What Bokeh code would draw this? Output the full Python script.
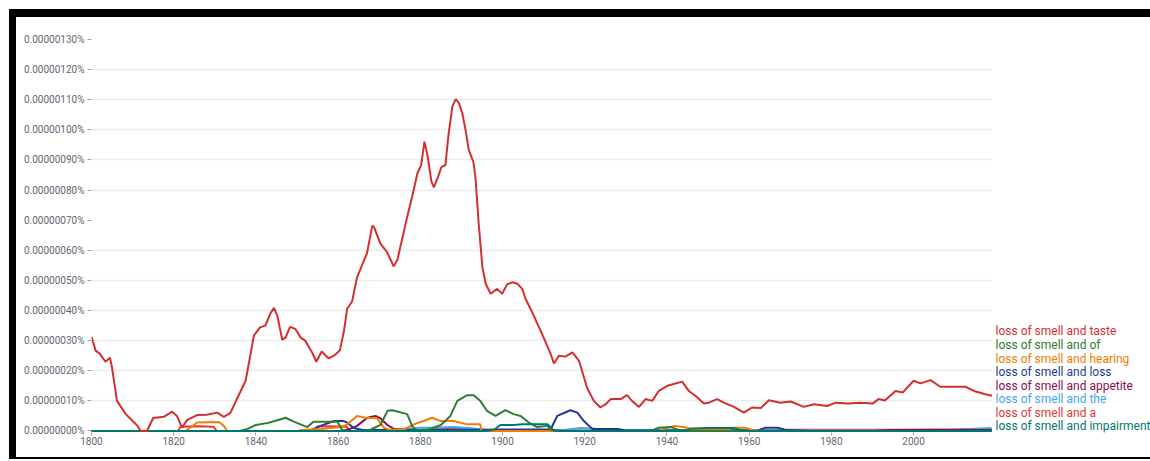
from bokeh.plotting import figure
from bokeh.models import FixedTicker, CustomJSTickFormatter, Range1d, ColumnDataSource, Div
from bokeh.core.properties import value
from bokeh.layouts import column, row
from bokeh.embed import file_html
from bokeh.resources import INLINE

# values are in units of 1e-8 percent (0.00000001%)
taste_years = [1800, 1801, 1802, 1803.4, 1804.5, 1805, 1806.2, 1808.3, 1810, 1811, 1812, 1813.5, 1815, 1817.6,
               1819.6, 1820.8, 1822, 1823.3, 1825.7, 1828, 1830.6, 1832.2, 1833.8, 1835.4, 1837.5, 1838.7, 1839.5,
               1841, 1842.3, 1843.5, 1844.4, 1845.2, 1846.4, 1847.2, 1848.3, 1849.6, 1850.9, 1852, 1853.7, 1854.7,
               1856, 1857.7, 1859, 1860.4, 1861.4, 1862.2, 1863.4, 1864.6, 1866.3, 1867, 1868.3, 1868.7, 1870.3,
               1871.9, 1873.5, 1874.4, 1875.6, 1876.8, 1878, 1879.3, 1880.2, 1881, 1881.8, 1882.7, 1883.3, 1884.3,
               1885.1, 1886.1, 1886.9, 1887.8, 1888.6, 1889.4, 1890.2, 1891, 1891.8, 1892.9, 1893.4, 1894.2, 1895.1,
               1895.9, 1897.1, 1898.7, 1899.9, 1901.1, 1902.4, 1903.6, 1904.8, 1905.6, 1907.6, 1910, 1911.7, 1912.5,
               1913.7, 1915.3, 1917, 1918.6, 1920.6, 1922.2, 1923.8, 1925.1, 1926.3, 1928.7, 1930.3, 1931.5, 1933.2,
               1934.8, 1936.4, 1938, 1940.1, 1942.1, 1943.7, 1945.3, 1946.9, 1949, 1950.2, 1952.2, 1953.8, 1956.3,
               1958.7, 1960.7, 1962.8, 1964.8, 1967.6, 1970.1, 1973.3, 1975.8, 1979, 1981, 1984, 1987.1, 1990,
               1991.5, 1993, 1995.6, 1997.4, 2000, 2001.7, 2004.1, 2006.5, 2009, 2012.6, 2015.1, 2017.5, 2019.1]
taste_vals = [31.3, 26.7, 25.7, 23, 24.3, 21, 10, 5.7, 3.3, 2, 0, 0, 4.3, 4.7,
              6.4, 5, 1.1, 3.7, 5.3, 5.4, 6.1, 4.7, 6, 10.7, 16.7, 25.6, 31.7,
              34.4, 35, 39, 40.9, 38.3, 30.3, 31, 34.6, 33.9, 31, 30, 26, 23,
              26.4, 24.1, 25, 26.7, 33, 40.6, 43, 51, 56.7, 58.9, 68.1, 67.8, 62.2,
              59.4, 54.7, 56.7, 63.9, 71.1, 77.8, 85.6, 88.3, 96.1, 91.1, 82.8, 80.9, 84.4,
              87.6, 88.3, 98.9, 107.8, 110.2, 108.9, 105.6, 100, 93.3, 89.4, 84.4, 68.9, 54.4,
              48.9, 45.6, 47.2, 45.6, 48.7, 49.4, 48.9, 47.2, 43.9, 38.3, 31, 25.6, 22.4,
              25, 24.7, 26.1, 23.3, 14.2, 10, 7.8, 8.9, 10.6, 10.6, 11.9, 10, 8,
              10.6, 10, 13.3, 15, 15.8, 16.4, 13.3, 11.7, 9.1, 9.4, 10.6, 9.4, 8,
              6.1, 7.8, 7.6, 10.2, 9.4, 9.8, 8, 8.9, 8.3, 9.4, 9.1, 9.4, 9.1,
              10.6, 10.1, 13.3, 12.8, 16.7, 15.8, 16.9, 14.7, 14.7, 14.7, 13.1, 12.2, 11.7]

of_years = [1800, 1836, 1838, 1840, 1843, 1845, 1847.2, 1849.2, 1852.5, 1854, 1859.8, 1861, 1862, 1866, 1868,
            1870.3, 1872, 1873.2, 1876.8, 1878, 1879, 1882, 1885, 1887.3, 1889, 1891.4, 1893, 1894.6, 1896.2,
            1898.3, 1900.7, 1902.7, 1904.4, 1906.4, 1908.4, 1910.9, 1911.7, 1913, 1936, 1938, 1941, 1943, 1944, 2019]
of_vals = [0, 0, 0.7, 2, 2.7, 3.5, 4.4, 3.1, 1.3, 3.1, 3.1, 0.3, 0, 0, 0.5,
           2, 6.7, 6.9, 5.6, 1.7, 0.3, 0.5, 2, 5, 10, 11.9, 11.9, 10, 6.7,
           5, 6.9, 5.6, 5, 2.8, 1.3, 1.7, 0.5, 0, 0, 1.1, 1.3, 0.3, 0, 0]

hearing_years = [1800, 1823, 1824, 1825.7, 1831, 1832.2, 1833, 1850, 1851, 1856, 1860.5, 1862, 1864.6, 1866.7,
                 1869.5, 1871.1, 1872.7, 1876, 1878.4, 1880.8, 1882.9, 1884.9, 1888.1, 1891.4, 1894.6, 1894.8,
                 1938, 1940, 1942, 1945, 1947, 1954, 1956, 1959, 1961, 1963, 2019]
hearing_vals = [0, 0, 1.1, 2.8, 3, 1.7, 0, 0, 0.3, 0.7, 1.3, 2, 5, 4.4,
                4.2, 1.1, 0.3, 0.5, 2.2, 3.3, 4.4, 3.3, 3.3, 2.2, 2.2, 0,
                0, 1.1, 1.7, 1.1, 0.3, 0.3, 1.1, 1.1, 0.3, 0, 0]

loss_years = [1800, 1853, 1855.7, 1859, 1861.4, 1862.2, 1863.8, 1866, 1880, 1890, 1900, 1911.7, 1913.3, 1916.5,
              1918.2, 1919.8, 1921.8, 1928, 1930, 1962, 1964, 1967, 1969, 1975, 2019]
loss_vals = [0, 0, 1.7, 3.3, 3.3, 2.8, 1, 0.3, 0.3, 0.3, 0.5, 0.5, 5, 6.9,
             6.1, 3.3, 0.7, 0.7, 0.2, 0.2, 1.1, 1.1, 0.3, 0, 0]

appetite_years = [1800, 1861, 1862.2, 1864.6, 1867.1, 1869.1, 1870.3, 1872, 1873.5, 1876, 1900, 1920, 1990, 1995,
                  2005, 2019]
appetite_vals = [0, 0, 0.3, 1.7, 4.4, 5, 4.2, 2, 0.7, 0.3, 0.2, 0, 0, 0.3, 0.4, 0.3]

the_years = [1800, 1873, 1875.2, 1880, 1884, 1888, 1892, 1896, 1915, 1919, 1922, 1925, 1950, 1960, 2005, 2012, 2019]
the_vals = [0, 0, 0.7, 1.1, 1.1, 1.3, 1, 0.3, 0.3, 1, 0.8, 0.3, 0.3, 0.2, 0.2, 0.6, 1.0]

a_years = [1800, 1821, 1821.7, 1826, 1829.7, 1830.5, 1854, 1855, 1858, 1862, 1863, 1881, 1882, 1887, 1891, 1893,
           1960, 1970, 2019]
a_vals = [0, 0, 1.4, 1.6, 1.4, 0, 0, 1.5, 1.6, 1.4, 0, 0, 1, 1.1, 0.9, 0.2, 0.2, 0.4, 0.4]

impairment_years = [1800, 1896, 1898, 1899.5, 1902.7, 1905, 1911, 1912.4, 1914, 1944, 1946, 1950, 1956, 1958,
                    1960, 2019]
impairment_vals = [0, 0, 0.5, 2, 2, 2.2, 2.2, 0.3, 0, 0, 0.8, 1, 1, 0.3, 0, 0]

series_names = ["loss of smell and taste", "loss of smell and of", "loss of smell and hearing",
                "loss of smell and loss", "loss of smell and appetite", "loss of smell and the",
                "loss of smell and a", "loss of smell and impairment"]
series_colors = ["#d32f2f", "#2e7d32", "#f57c00", "#1f3a93", "#880e4f", "#42a5f5", "#e53935", "#00796b"]
series_data = [(taste_years, taste_vals), (of_years, of_vals), (hearing_years, hearing_vals),
               (loss_years, loss_vals), (appetite_years, appetite_vals), (the_years, the_vals),
               (a_years, a_vals), (impairment_years, impairment_vals)]

y_ticks = [0, 10, 20, 30, 40, 50, 60, 70, 80, 90, 100, 110, 120, 130]
grid_ticks = [10, 20, 30, 40, 50, 60, 80, 90, 100, 110, 120]
year_ticks = [1800, 1820, 1840, 1860, 1880, 1900, 1920, 1940, 1960, 1980, 2000]

LABEL_COLOR = "#5f6672"
FONT = "Roboto"
H = 440
TOP, BOTTOM = 13, 25
PAD = 9

y_range = Range1d(-0.5, 133)

p = figure(width=978, height=H, x_range=Range1d(1800, 2019.2), y_range=y_range,
           output_backend="svg", toolbar_location=None, margin=0,
           min_border_left=75, min_border_right=2, min_border_top=TOP, min_border_bottom=BOTTOM)
p.outline_line_color = None
p.background_fill_color = "white"
p.border_fill_color = "white"

p.xgrid.visible = False
p.ygrid.ticker = FixedTicker(ticks=grid_ticks)
p.ygrid.grid_line_color = "#ececec"
p.ygrid.grid_line_width = 1.5

p.yaxis.ticker = FixedTicker(ticks=y_ticks)
p.yaxis.formatter = CustomJSTickFormatter(code="return (tick*1e-8).toFixed(8) + '%';")
p.yaxis.axis_line_color = None
p.yaxis.major_tick_line_color = "#9aa0a8"
p.yaxis.major_tick_out = 4
p.yaxis.major_tick_in = 0
p.yaxis.minor_tick_line_color = None
p.yaxis.major_label_standoff = 3

p.xaxis.ticker = FixedTicker(ticks=year_ticks)
p.xaxis.axis_line_color = None
p.xaxis.major_tick_line_color = "#9aa0a8"
p.xaxis.major_tick_out = 3
p.xaxis.major_tick_in = 0
p.xaxis.minor_tick_line_color = None
p.xaxis.major_label_standoff = 1

for ax in (p.xaxis, p.yaxis):
    ax.major_label_text_font = FONT
    ax.major_label_text_font_size = "10px"
    ax.major_label_text_color = LABEL_COLOR

# draw the minor series first, the main one last (on top)
draw_order = [6, 5, 4, 3, 2, 1, 7, 0]
for i in draw_order:
    xs, ys = series_data[i]
    p.line(xs, ys, line_color=series_colors[i], line_width=2)

# right-hand labels panel, sharing the vertical scale of the chart
legend_top = 33.05
legend_step = 4.507
leg_src = ColumnDataSource(dict(
    x=[1] * len(series_names),
    y=[legend_top - i * legend_step for i in range(len(series_names))],
    text=series_names,
    color=series_colors,
))
leg = figure(width=156, height=H, x_range=Range1d(0, 156), y_range=y_range,
             output_backend="svg", toolbar_location=None, x_axis_type=None, y_axis_type=None,
             margin=0, min_border_left=0, min_border_right=0, min_border_top=TOP, min_border_bottom=BOTTOM)
leg.outline_line_color = None
leg.xgrid.visible = False
leg.ygrid.visible = False
leg.text(x="x", y="y", text="text", text_color="color", source=leg_src,
         text_font=value(FONT), text_font_size="12px", text_baseline="middle", text_align="left")

black = {"background-color": "black"}
top_bar = Div(text="", width=1141, height=8, styles=black, margin=(PAD, 0, 0, PAD))
left_bar = Div(text="", width=7, height=H, styles=black, margin=(0, 0, 0, PAD))
bottom_bar = Div(text="", width=1141, height=2, styles=black, margin=(0, 0, 0, PAD))

layout = column(top_bar, row(left_bar, p, leg, margin=0), bottom_bar, margin=0)

open("out.html", "w").write(file_html(layout, INLINE))
